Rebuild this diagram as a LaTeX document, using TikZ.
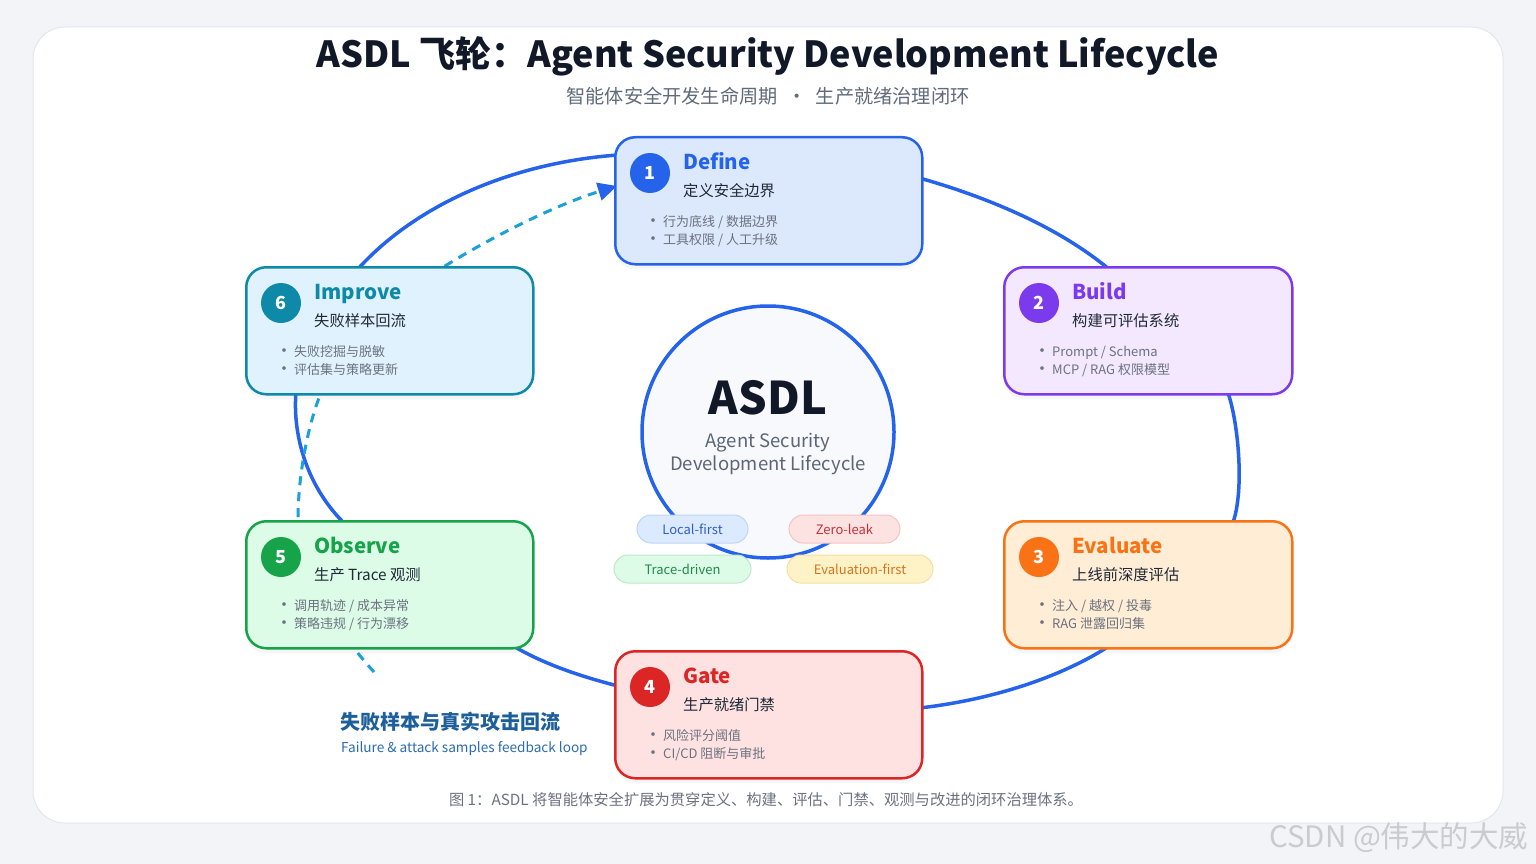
\documentclass[tikz,border=0pt]{standalone}
\usepackage{fontspec}
\setmainfont{Noto Sans CJK SC}
\usetikzlibrary{arrows.meta,shadows}
\definecolor{bgC}{HTML}{F2F4F7}
\definecolor{cardB}{HTML}{E3E7EC}
\definecolor{loopC}{HTML}{2563EB}
\definecolor{fbC}{HTML}{1BA1D8}
\definecolor{titleC}{HTML}{111827}
\definecolor{subC}{HTML}{5F6B7C}
\definecolor{darkT}{HTML}{1F2937}
\definecolor{grayT}{HTML}{6B7280}
\definecolor{coreF}{HTML}{F7F9FC}
\definecolor{coreT}{HTML}{5B6678}
\definecolor{defineC}{HTML}{2563EB}\definecolor{defineF}{HTML}{DCE8FC}
\definecolor{buildC}{HTML}{7C3AED}\definecolor{buildF}{HTML}{F3E8FF}
\definecolor{evaluateC}{HTML}{F97316}\definecolor{evaluateF}{HTML}{FFEDD5}
\definecolor{gateC}{HTML}{DC2626}\definecolor{gateF}{HTML}{FEE2E2}
\definecolor{observeC}{HTML}{16A34A}\definecolor{observeF}{HTML}{DCFCE7}
\definecolor{improveC}{HTML}{0E8AA8}\definecolor{improveF}{HTML}{E0F2FE}
\definecolor{capC}{HTML}{1D5F9B}
\definecolor{capC2}{HTML}{2B6CB0}
\definecolor{wmC}{HTML}{C9CBCF}
\definecolor{p1F}{HTML}{DBEAFE}\definecolor{p1B}{HTML}{BFD4F6}\definecolor{p1T}{HTML}{2F5FC9}
\definecolor{p2F}{HTML}{FDE2E2}\definecolor{p2B}{HTML}{F5C4C4}\definecolor{p2T}{HTML}{C5303A}
\definecolor{p3F}{HTML}{DCFCE7}\definecolor{p3B}{HTML}{BDE8C9}\definecolor{p3T}{HTML}{1F8A4C}
\definecolor{p4F}{HTML}{FEF3C7}\definecolor{p4B}{HTML}{F5DFA0}\definecolor{p4T}{HTML}{D9731C}
\newcommand{\fsz}[1]{\fontsize{#1pt}{#1pt}\selectfont}
\pgfdeclarelayer{back}
\pgfdeclarelayer{bg}
\pgfsetlayers{back,bg,main}
\tikzset{
  stg/.style={rectangle, rounded corners=20pt, line width=2.5pt, minimum height=127pt,
    inner sep=0pt, drop shadow={opacity=0.07, shadow xshift=0pt, shadow yshift=-5pt}},
  numc/.style={circle, minimum size=40pt, inner sep=0pt, text=white, font=\bfseries\fsz{18}},
  stitle/.style={anchor=base west, inner sep=0pt, font=\bfseries\fsz{20.5}},
  ssub/.style={anchor=base west, inner sep=0pt, font=\fsz{15.3}, text=darkT},
  sitem/.style={anchor=base west, inner sep=0pt, font=\fsz{13}, text=grayT},
  sdot/.style={inner sep=0pt, font=\bfseries\fsz{13}, text=grayT},
  loopline/.style={draw=loopC, line width=3.5pt},
  fbline/.style={draw=fbC, line width=3pt, dash pattern=on 9pt off 7pt},
  pill/.style={rectangle, rounded corners=14pt, minimum height=28pt, line width=1pt,
    inner sep=0pt, font=\fsz{13}},
}
\newcommand{\stagebox}[9]{%
  \node[stg, draw=#1C, fill=#1F, minimum width=#4pt, anchor=north west] (#1) at (#2,#3) {};
  \node[numc, fill=#1C] (#1n) at (#2+36,#3+37) {#5};
  \node[stitle, text=#1C] (#1t) at (#2+69,#3+33) {#6};
  \node[ssub] (#1s) at (#2+69,#3+60) {#7};
  \node[sdot] (#1d1) at (#2+39,#3+86) {·};
  \node[sitem] (#1a) at (#2+49,#3+90) {#8};
  \node[sdot] (#1d2) at (#2+39,#3+104) {·};
  \node[sitem] (#1b) at (#2+49,#3+108) {#9};
}
\begin{document}
\begin{tikzpicture}[x=1pt,y=-1pt]
\useasboundingbox (0,0) rectangle (1536,864);
% title
\node[font=\bfseries\fsz{36}, text=titleC] (title) at (768,56) {ASDL 飞轮：Agent Security Development Lifecycle};
\node[font=\fsz{19.2}, text=subC] (subtitle) at (768,96) {智能体安全开发生命周期\hspace{0.5em}•\hspace{0.5em}生产就绪治理闭环};
% stages
\stagebox{define}{614}{136}{307}{1}{Define}{定义安全边界}{行为底线 / 数据边界}{工具权限 / 人工升级}
\stagebox{build}{1003}{266}{288}{2}{Build}{构建可评估系统}{Prompt / Schema}{MCP / RAG 权限模型}
\stagebox{evaluate}{1003}{520}{288}{3}{Evaluate}{上线前深度评估}{注入 / 越权 / 投毒}{RAG 泄露回归集}
\stagebox{gate}{614}{650}{307}{4}{Gate}{生产就绪门禁}{风险评分阈值}{CI/CD 阻断与审批}
\stagebox{observe}{245}{520}{287}{5}{Observe}{生产 Trace 观测}{调用轨迹 / 成本异常}{策略违规 / 行为漂移}
\stagebox{improve}{245}{266}{287}{6}{Improve}{失败样本回流}{失败挖掘与脱敏}{评估集与策略更新}
% core
\node[circle, minimum size=252pt, inner sep=0pt, draw=loopC, line width=3.5pt, fill=coreF] (core) at (768,432) {};
\node[font=\bfseries\fsz{45}, text=titleC] (coret) at (768,398) {ASDL};
\node[font=\fsz{18.5}, text=coreT] (cores1) at (768,443) {Agent Security};
\node[font=\fsz{18.5}, text=coreT] (cores2) at (768,465) {Development Lifecycle};
% pills
\node[pill, fill=p1F, draw=p1B, text=p1T, minimum width=111pt] (pl1) at (692.5,529) {Local-first};
\node[pill, fill=p2F, draw=p2B, text=p2T, minimum width=111pt] (pl2) at (844.5,529) {Zero-leak};
\node[pill, fill=p3F, draw=p3B, text=p3T, minimum width=137pt] (pl3) at (682.5,569) {Trace-driven};
\node[pill, fill=p4F, draw=p4B, text=p4T, minimum width=146pt] (pl4) at (860,569) {Evaluation-first};
% captions
\node[anchor=west, inner sep=0pt, font=\bfseries\fsz{20}, text=capC] (fbt) at (340,722) {失败样本与真实攻击回流};
\node[anchor=west, inner sep=0pt, font=\fsz{13.6}, text=capC2] (fbs) at (341,749) {Failure \& attack samples feedback loop};
\node[font=\fsz{15.3}, text=grayT] (figcap) at (766,800) {图 1：ASDL 将智能体安全扩展为贯穿定义、构建、评估、门禁、观测与改进的闭环治理体系。};
\node[anchor=east, font=\fsz{29.5}, text=wmC] (wm) at (1532,838) {CSDN @伟大的大威};
\coordinate (fb0) at (374,672);
% loop
\begin{pgfonlayer}{bg}
\draw[loopline] ([xshift=112pt,yshift=-4pt]improve.north west) .. controls (420,200) and (520,162) .. ([xshift=4pt,yshift=-19pt]define.north west);
\draw[loopline] ([xshift=-4pt,yshift=-42pt]define.north east) .. controls (990,198) and (1060,228) .. ([xshift=107pt,yshift=-4pt]build.north west);
\draw[loopline] ([xshift=-66pt,yshift=4pt]build.south east) .. controls (1238,420) and (1245,490) .. ([xshift=-61pt,yshift=-4pt]evaluate.north east);
\draw[loopline] ([xshift=107pt,yshift=4pt]evaluate.south west) .. controls (1060,678) and (990,700) .. ([xshift=-4pt,yshift=-58pt]gate.north east);
\draw[loopline] ([xshift=4pt,yshift=-36pt]gate.north west) .. controls (575,675) and (540,662) .. ([xshift=-22pt,yshift=4pt]observe.south east);
\draw[loopline] ([xshift=100pt,yshift=-4pt]observe.north west) .. controls (310,490) and (292,440) .. ([xshift=51pt,yshift=4pt]improve.south west);
\draw[fbline, -{Triangle[length=19pt,width=18pt,color=loopC]}]
  (fb0) .. controls (345,640) and (300,580) .. ([xshift=53pt]observe.north west)
  .. controls (298,470) and (310,420) .. ([xshift=75pt]improve.south west)
  -- ([xshift=200pt]improve.north west)
  .. controls (490,238) and (555,205) .. ([xshift=3pt,yshift=-50pt]define.north west);
\end{pgfonlayer}
\begin{pgfonlayer}{back}
\fill[bgC] (0,0) rectangle (1536,864);
\filldraw[fill=white, draw=cardB, line width=1pt, rounded corners=32pt] (33,27) rectangle (1503,823);
\end{pgfonlayer}
\end{tikzpicture}
\end{document}
